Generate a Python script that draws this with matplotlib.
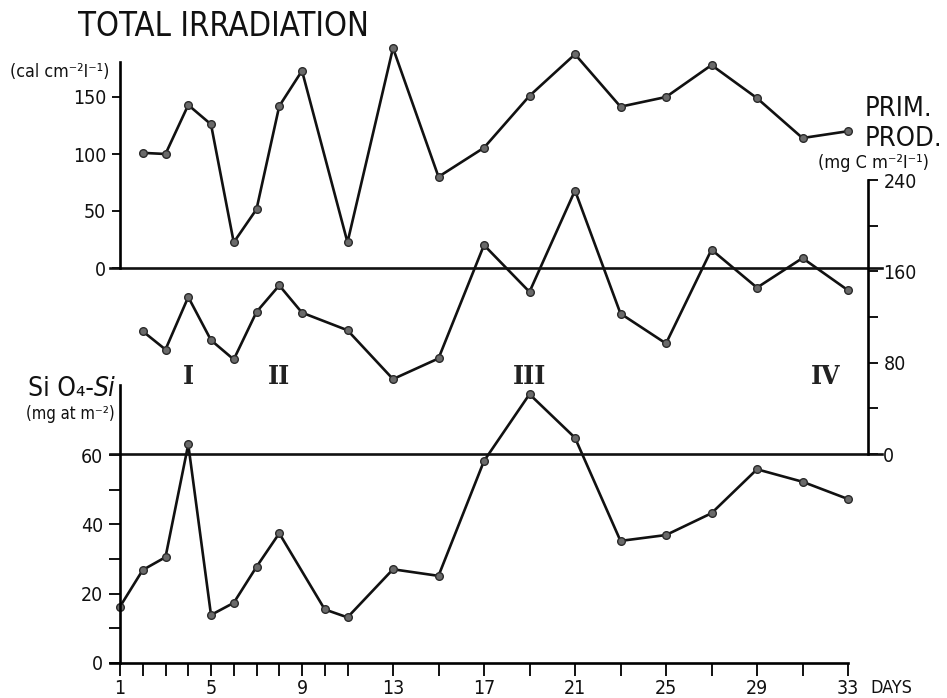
import matplotlib
matplotlib.use("Agg")
import matplotlib.pyplot as plt

# ---------------- data ----------------
irr_days = [2, 3, 4, 5, 6, 7, 8, 9, 11, 13, 15, 17, 19, 21, 23, 25, 27, 29, 31, 33]
irr_vals = [101, 100, 143, 126, 22.5, 51.5, 142, 173, 22.5, 193, 80, 105.5, 151, 187.5,
            141.5, 150, 178, 149, 114, 120]

pp_days = [2, 3, 4, 5, 6, 7, 8, 9, 11, 13, 15, 17, 19, 21, 23, 25, 27, 29, 31, 33]
pp_vals = [107.5, 91.5, 137.5, 99.7, 82.8, 124.4, 147.7, 123.8, 108.4, 65.6, 83.7, 183,
           142, 230.8, 123, 96.8, 179, 145.7, 171.6, 143.4]

si_days = [1, 2, 3, 4, 5, 6, 7, 8, 10, 11, 13, 15, 17, 19, 21, 23, 25, 27, 29, 31, 33]
si_vals = [16.2, 26.8, 30.5, 63.1, 13.8, 17.3, 27.7, 37.4, 15.4, 13.1, 27, 25.1, 58.3,
           77.6, 65, 35.2, 36.9, 43.2, 55.9, 52.3, 47.3]

day_ticks = [1, 2, 3, 4, 5, 6, 7, 8, 9, 10, 11, 13, 15, 17, 19, 21, 23, 25, 27, 29, 31, 33]
day_labels = [1, 5, 9, 13, 17, 21, 25, 29, 33]

irr_ticks = [0, 50, 100, 150]
pp_ticks = [0, 40, 80, 120, 160, 200, 240]
pp_labels = [0, 80, 160, 240]
si_ticks = [0, 10, 20, 30, 40, 50, 60]
si_labels = [0, 20, 40, 60]

periods = ["I", "II", "III", "IV"]
period_days = [4, 8, 19, 32]

# ---------------- layout ----------------
W, H = 947, 698
plt.rcParams["font.family"] = ["DejaVu Sans"]
plt.rcParams["font.stretch"] = "condensed"

fig = plt.figure(figsize=(W / 100, H / 100), dpi=100)

def pos(l, r, t, b):
    return [l / W, 1 - b / H, (r - l) / W, (b - t) / H]

PX_DAY = 22.75
X0, X1 = 120, 868
xlim = (1, 1 + (X1 - X0) / PX_DAY)
LW = 1.9
ink = "#111111"

def base(ax):
    ax.patch.set_visible(False)
    for s in ax.spines.values():
        s.set_visible(False)
    ax.set_xlim(*xlim)
    ax.tick_params(colors=ink, labelsize=14, width=1.4)

hl_min = (110 - X0) / (X1 - X0)
hl_max = (882 - X0) / (X1 - X0)

# irradiation
ax1 = fig.add_axes(pos(X0, X1, 62, 268))
base(ax1)
ax1.set_ylim(0, 206 / 1.14)
ax1.spines["left"].set_visible(True)
ax1.spines["left"].set_linewidth(LW)
ax1.set_yticks(irr_ticks)
ax1.set_xticks([])
ax1.tick_params(axis="y", direction="out", length=6, pad=4)
ax1.axhline(0, xmin=hl_min, xmax=hl_max, color=ink, lw=LW, clip_on=False)

# primary production
ax2 = fig.add_axes(pos(X0, X1, 180, 454))
base(ax2)
ax2.set_ylim(0, 240)
ax2.spines["right"].set_visible(True)
ax2.spines["right"].set_linewidth(LW)
ax2.yaxis.tick_right()
ax2.set_yticks(pp_ticks)
ax2.set_yticklabels([str(v) if v in pp_labels else "" for v in pp_ticks])
ax2.set_xticks([])
ax2.tick_params(axis="y", direction="out", length=7, pad=4)
ax2.axhline(0, xmin=hl_min, xmax=hl_max, color=ink, lw=LW, clip_on=False)

# silicate
ax3 = fig.add_axes(pos(X0, X1, 385, 662.7))
base(ax3)
ax3.set_ylim(0, 277.7 / 3.46)
ax3.spines["left"].set_visible(True)
ax3.spines["left"].set_linewidth(LW)
ax3.spines["bottom"].set_visible(True)
ax3.spines["bottom"].set_linewidth(LW)
ax3.spines["bottom"].set_bounds(1 - 10 / PX_DAY, 33)
ax3.set_yticks(si_ticks)
ax3.set_yticklabels([str(v) if v in si_labels else "" for v in si_ticks])
ax3.set_xticks(day_ticks)
ax3.set_xticklabels([str(d) if d in day_labels else "" for d in day_ticks])
ax3.tick_params(axis="y", direction="out", length=8, pad=4)
ax3.tick_params(axis="x", direction="out", length=9, pad=3)

style = dict(color=ink, lw=LW, marker="o", ms=5.5, mfc="#6a6a6a", mec="#2a2a2a",
             mew=1.0, clip_on=False)
ax1.plot(irr_days, irr_vals, **style)
ax2.plot(pp_days, pp_vals, **style)
ax3.plot(si_days, si_vals, **style)

# period labels
for lab, d in zip(periods, period_days):
    ax2.text(d, 68, lab, ha="center", va="center", fontsize=19,
             family=["DejaVu Serif"], fontweight="bold", color="#222222")

# titles / units
fig.text(78 / W, 1 - 27 / H, "TOTAL IRRADIATION", fontsize=23.5, ha="left",
         va="center", color=ink)
fig.text(10 / W, 1 - 72 / H, "(cal cm⁻²I⁻¹)", fontsize=12.8, ha="left",
         va="center", color=ink)
fig.text(865 / W, 1 - 109 / H, "PRIM.", fontsize=19.5, ha="left", va="center",
         color=ink)
fig.text(865 / W, 1 - 139 / H, "PROD.", fontsize=19.5, ha="left", va="center",
         color=ink)
fig.text(818 / W, 1 - 163 / H, "(mg C m⁻²I⁻¹)", fontsize=13, ha="left",
         va="center", color=ink)
t1 = fig.text(28 / W, 1 - 389 / H, "Si O₄-", fontsize=19, ha="left",
              va="center", color=ink)
fig.canvas.draw()
bb = t1.get_window_extent()
fig.text(bb.x1 / W, 1 - 389 / H, "Si", fontsize=19, style="italic", ha="left",
         va="center", color=ink)
fig.text(26 / W, 1 - 414 / H, "(mg at m⁻²)", fontsize=12, ha="left",
         va="center", color=ink)
fig.text(870 / W, 1 - 688 / H, "DAYS", fontsize=13, ha="left", va="center",
         color=ink)

fig.savefig("out.png", dpi=100)
